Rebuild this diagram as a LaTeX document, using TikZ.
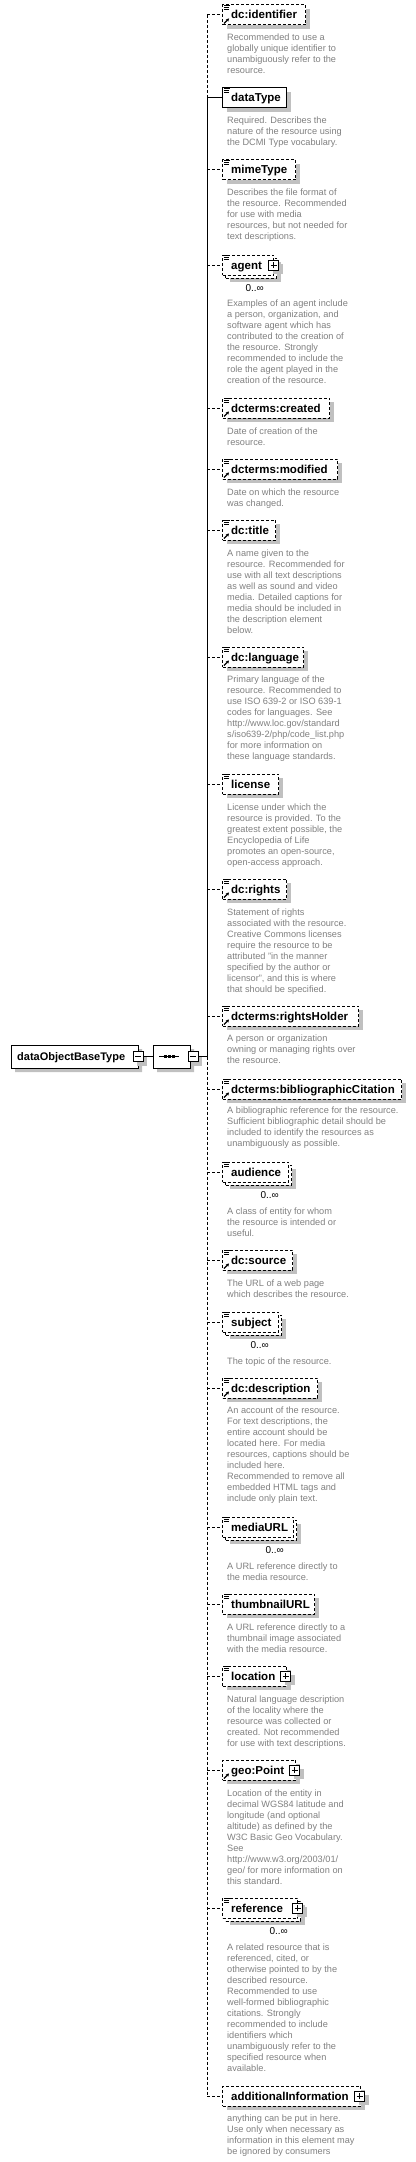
\documentclass[tikz,border=0pt]{standalone}
\usepackage{fontspec}
\setmainfont{Liberation Sans}
\usetikzlibrary{shapes.misc,shadows,arrows.meta}
\definecolor{shgray}{RGB}{192,192,192}
\definecolor{descgray}{RGB}{128,128,128}
\tikzset{
  shad/.style={drop shadow={shadow xshift=4pt,shadow yshift=-4pt,fill=shgray,opacity=1}},
  dsh/.style={dash pattern=on 3pt off 2pt},
  wire/.style={line width=1pt},
  optbox/.style={draw,dsh,fill=white,line width=1pt,inner sep=0pt,minimum height=20,anchor=west},
  reqbox/.style={draw,fill=white,line width=1pt,inner sep=0pt,minimum height=20,anchor=west},
  lbl/.style={inner sep=0pt,anchor=base west,font=\bfseries\fontsize{11.5}{13}\selectfont},
  rootlbl/.style={inner sep=0pt,anchor=base west,font=\bfseries\fontsize{11}{13}\selectfont},
  desc/.style={inner sep=0pt,anchor=north west,align=left,text=descgray,font=\fontsize{9.2}{11}\selectfont},
  occ/.style={inner sep=0pt,anchor=base east,font=\fontsize{10}{12}\selectfont},
  pmbox/.style={draw,fill=white,line width=1pt,inner sep=0pt,minimum size=10,shad},
  icon/.style={line width=0.8pt},
  refarrow/.style={line width=1.1pt,-{Stealth[length=3pt,width=3.5pt]}},
}
\newcommand{\single}[5]{%
  \node[#4,shad,minimum width={#3-222}] (#1) at (222,#2) {};
  \node[lbl] (#1-t) at (231,#2+4) {#5};
}
\newcommand{\multi}[5]{%
  \node[#4,shad,minimum width={#3-222}] (#1-b) at (225,#2+3) {};
  \node[#4,minimum width={#3-222}] (#1) at (222,#2) {};
  \node[lbl] (#1-t) at (231,#2+4) {#5};
  \node[occ] (#1-o) at (#3-9,#2+26.5) {0..∞};
}
\newcommand{\docicon}[1]{%
  \draw[icon] ([shift={(2,1)}]#1.north west) -- ++(6,0);
  \draw[icon] ([shift={(2,3)}]#1.north west) -- ++(5,0);
  \draw[icon] ([shift={(2,5)}]#1.north west) -- ++(5,0);
}
\newcommand{\reficon}[1]{%
  \draw[refarrow] ([shift={(2,-2)}]#1.south west) -- ++(5,-5);
}
\newcommand{\plusbox}[3]{%
  \node[pmbox] (#1) at (#2,#3) {};
  \draw[line width=1pt] ([xshift=-3pt]#1.center) -- ([xshift=3pt]#1.center)
                        ([yshift=-3pt]#1.center) -- ([yshift=3pt]#1.center);
}
\newcommand{\minusbox}[3]{%
  \node[pmbox] (#1) at (#2,#3) {};
  \draw[line width=1pt] ([xshift=-3pt]#1.center) -- ([xshift=3pt]#1.center);
}
\newcommand{\dsc}[3]{\node[desc] (#1-d) at (227,#2-4.4) {\strut #3};}
\begin{document}
\begin{tikzpicture}[x=1pt,y=-1pt]
\useasboundingbox (0,0) rectangle (415,2162);

% ---------- root and sequence ----------
\node[chamfered rectangle,chamfered rectangle corners={north west,south west},
      chamfered rectangle xsep=4pt,chamfered rectangle ysep=4pt,
      draw,fill=white,line width=1pt,inner sep=0pt,minimum width=127,minimum height=23,shad]
      (root) at (74.5,1056.5) {};
\node[rootlbl] (root-t) at (17,1060.5) {dataObjectBaseType};
\minusbox{root-m}{138}{1056.5}
\node[chamfered rectangle,chamfered rectangle xsep=6pt,chamfered rectangle ysep=5pt,
      draw,fill=white,line width=1pt,inner sep=0pt,minimum width=37,minimum height=23,shad]
      (seq) at (171.5,1056.5) {};
\draw[wire] ([xshift=-12.5pt]seq.center) -- ([xshift=7pt]seq.center);
\foreach \dx in {-6,-2,2}{\fill ([shift={(\dx-1.5,-1.5)}]seq.center) rectangle ++(3,3);}
\minusbox{seq-m}{193}{1056.5}
\draw[wire] (root-m.east) -- (seq.west);
\coordinate (bus) at (207,1056.5);
\draw[wire] (seq-m.east) -- (bus);

% ---------- elements ----------
\single{e1}{15}{305}{optbox}{dc:identifier}\docicon{e1}\reficon{e1}
\dsc{e1}{37}{Recommended to use a\\globally unique identifier to\\unambiguously refer to the\\resource.}

\single{e2}{98}{286}{reqbox}{dataType}\docicon{e2}
\dsc{e2}{120}{Required. Describes the\\nature of the resource using\\the DCMI Type vocabulary.}

\single{e3}{170}{295}{optbox}{mimeType}\docicon{e3}
\dsc{e3}{192}{Describes the file format of\\the resource. Recommended\\for use with media\\resources, but not needed for\\text descriptions.}

\multi{e4}{265}{273}{optbox}{agent}\docicon{e4}\plusbox{e4-p}{273.5}{265}
\dsc{e4}{303}{Examples of an agent include\\a person, organization, and\\software agent which has\\contributed to the creation of\\the resource. Strongly\\recommended to include the\\role the agent played in the\\creation of the resource.}

\single{e5}{408}{329}{optbox}{dcterms:created}\docicon{e5}\reficon{e5}
\dsc{e5}{431}{Date of creation of the\\resource.}

\single{e6}{469}{337}{optbox}{dcterms:modified}\docicon{e6}\reficon{e6}
\dsc{e6}{492}{Date on which the resource\\was changed.}

\single{e7}{530}{275}{optbox}{dc:title}\docicon{e7}\reficon{e7}
\dsc{e7}{553}{A name given to the\\resource. Recommended for\\use with all text descriptions\\as well as sound and video\\media. Detailed captions for\\media should be included in\\the description element\\below.}

\single{e8}{657}{303}{optbox}{dc:language}\docicon{e8}\reficon{e8}
\dsc{e8}{679}{Primary language of the\\resource. Recommended to\\use ISO 639-2 or ISO 639-1\\codes for languages. See\\http://www.loc.gov/standard\\s/iso639-2/php/code\_list.php\\for more information on\\these language standards.}

\single{e9}{784}{278}{optbox}{license}\docicon{e9}
\dsc{e9}{807}{License under which the\\resource is provided. To the\\greatest extent possible, the\\Encyclopedia of Life\\promotes an open-source,\\open-access approach.}

\single{e10}{889}{286}{optbox}{dc:rights}\docicon{e10}\reficon{e10}
\dsc{e10}{912}{Statement of rights\\associated with the resource.\\Creative Commons licenses\\require the resource to be\\attributed "in the manner\\specified by the author or\\licensor", and this is where\\that should be specified.}

\single{e11}{1016}{358}{optbox}{dcterms:rightsHolder}\docicon{e11}\reficon{e11}
\dsc{e11}{1038}{A person or organization\\owning or managing rights over\\the resource.}

\single{e12}{1089}{401}{optbox}{dcterms:bibliographicCitation}\docicon{e12}\reficon{e12}
\dsc{e12}{1110}{A bibliographic reference for the resource.\\Sufficient bibliographic detail should be\\included to identify the resources as\\unambiguously as possible.}

\multi{e13}{1172}{288}{optbox}{audience}\docicon{e13}
\dsc{e13}{1211}{A class of entity for whom\\the resource is intended or\\useful.}

\single{e14}{1260}{292}{optbox}{dc:source}\docicon{e14}\reficon{e14}
\dsc{e14}{1283}{The URL of a web page\\which describes the resource.}

\multi{e15}{1322}{278}{optbox}{subject}\docicon{e15}
\dsc{e15}{1361}{The topic of the resource.}

\single{e16}{1388}{317}{optbox}{dc:description}\docicon{e16}\reficon{e16}
\dsc{e16}{1410}{An account of the resource.\\For text descriptions, the\\entire account should be\\located here. For media\\resources, captions should be\\included here.\\Recommended to remove all\\embedded HTML tags and\\include only plain text.}

\multi{e17}{1527}{293}{optbox}{mediaURL}\docicon{e17}
\dsc{e17}{1566}{A URL reference directly to\\the media resource.}

\single{e18}{1604}{314}{optbox}{thumbnailURL}\docicon{e18}
\dsc{e18}{1627}{A URL reference directly to a\\thumbnail image associated\\with the media resource.}

\single{e19}{1676}{286}{optbox}{location}\docicon{e19}\plusbox{e19-p}{285.5}{1676}
\dsc{e19}{1699}{Natural language description\\of the locality where the\\resource was collected or\\created. Not recommended\\for use with text descriptions.}

\single{e20}{1770}{295}{optbox}{geo:Point}\reficon{e20}\plusbox{e20-p}{294.5}{1770}
\dsc{e20}{1793}{Location of the entity in\\decimal WGS84 latitude and\\longitude (and optional\\altitude) as defined by the\\W3C Basic Geo Vocabulary.\\See\\http://www.w3.org/2003/01/\\geo/ for more information on\\this standard.}

\multi{e21}{1908}{297}{optbox}{reference}\docicon{e21}\plusbox{e21-p}{297.5}{1908}
\dsc{e21}{1947}{A related resource that is\\referenced, cited, or\\otherwise pointed to by the\\described resource.\\Recommended to use\\well-formed bibliographic\\citations. Strongly\\recommended to include\\identifiers which\\unambiguously refer to the\\specified resource when\\available.}

\single{e22}{2096}{360}{optbox}{additionalInformation}\plusbox{e22-p}{359.5}{2096}
\dsc{e22}{2118}{anything can be put in here.\\Use only when necessary as\\information in this element may\\be ignored by consumers}

% ---------- bus and connectors ----------
\foreach \i/\c in {1/15,2/98,3/170,4/265,5/408,6/469,7/530,8/657,9/784,10/889,11/1016,
                   12/1089,13/1172,14/1260,15/1322,16/1388,17/1527,18/1604,19/1676,
                   20/1770,21/1908,22/2096}{\coordinate (j\i) at (207,\c);}
\draw[wire,dsh] (j1) -- (j2);
\draw[wire] (j2) -- (bus);
\draw[wire,dsh] (bus) -- (j22);
\draw[wire] (j2) -- (e2.west);
\foreach \i in {1,3,4,5,6,7,8,9,10,11,12,13,14,15,16,17,18,19,20,21,22}{
  \draw[wire,dsh] (j\i) -- (e\i.west);
}
\end{tikzpicture}
\end{document}
